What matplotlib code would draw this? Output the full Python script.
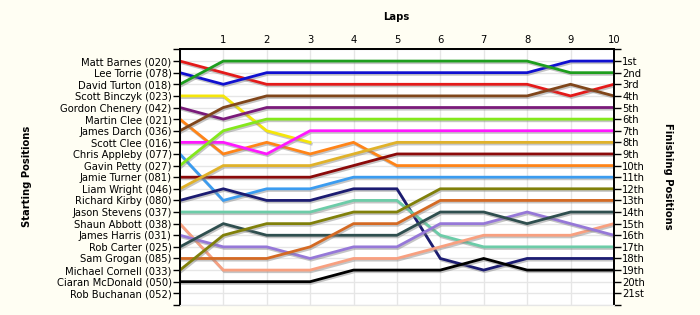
import numpy as np
import matplotlib
matplotlib.use("Agg")
from matplotlib import pyplot as plt
import matplotlib.patheffects as pe

laps = list(range(11))

drivers = [
    "Matt Barnes (020)", "Lee Torrie (078)", "David Turton (018)", "Scott Binczyk (023)",
    "Gordon Chenery (042)", "Martin Clee (021)", "James Darch (036)", "Scott Clee (016)",
    "Chris Appleby (077)", "Gavin Petty (027)", "Jamie Turner (081)", "Liam Wright (046)",
    "Richard Kirby (080)", "Jason Stevens (037)", "Shaun Abbott (038)", "James Harris (031)",
    "Rob Carter (025)", "Sam Grogan (085)", "Michael Cornell (033)", "Ciaran McDonald (050)",
    "Rob Buchanan (052)",
]

finish_labels = ["1st", "2nd", "3rd"] + [f"{i}th" for i in range(4, 21)] + ["21st"]

# position per lap (lap 0 = grid), shorter list = retired, empty = did not start
positions = {
    "Matt Barnes (020)":     [1, 2, 3, 3, 3, 3, 3, 3, 3, 4, 3],
    "Lee Torrie (078)":      [2, 3, 2, 2, 2, 2, 2, 2, 2, 1, 1],
    "David Turton (018)":    [3, 1, 1, 1, 1, 1, 1, 1, 1, 2, 2],
    "Scott Binczyk (023)":   [4, 4, 7, 8],
    "Gordon Chenery (042)":  [5, 6, 5, 5, 5, 5, 5, 5, 5, 5, 5],
    "Martin Clee (021)":     [6, 9, 8, 9, 8, 10, 10, 10, 10, 10, 10],
    "James Darch (036)":     [7, 5, 4, 4, 4, 4, 4, 4, 4, 3, 4],
    "Scott Clee (016)":      [8, 8, 9, 7, 7, 7, 7, 7, 7, 7, 7],
    "Chris Appleby (077)":   [9, 13, 12, 12, 11, 11, 11, 11, 11, 11, 11],
    "Gavin Petty (027)":     [10, 7, 6, 6, 6, 6, 6, 6, 6, 6, 6],
    "Jamie Turner (081)":    [11, 11, 11, 11, 10, 9, 9, 9, 9, 9, 9],
    "Liam Wright (046)":     [12, 10, 10, 10, 9, 8, 8, 8, 8, 8, 8],
    "Richard Kirby (080)":   [13, 12, 13, 13, 12, 12, 18, 19, 18, 18, 18],
    "Jason Stevens (037)":   [14, 14, 14, 14, 13, 13, 16, 17, 17, 17, 17],
    "Shaun Abbott (038)":    [15, 19, 19, 19, 18, 18, 17, 16, 16, 16, 15],
    "James Harris (031)":    [16, 17, 17, 18, 17, 17, 15, 15, 14, 15, 16],
    "Rob Carter (025)":      [17, 15, 16, 16, 16, 16, 14, 14, 15, 14, 14],
    "Sam Grogan (085)":      [18, 18, 18, 17, 15, 15, 13, 13, 13, 13, 13],
    "Michael Cornell (033)": [19, 16, 15, 15, 14, 14, 12, 12, 12, 12, 12],
    "Ciaran McDonald (050)": [20, 20, 20, 20, 19, 19, 19, 18, 19, 19, 19],
    "Rob Buchanan (052)":    [],
}

colors = {
    "Matt Barnes (020)": "#e41a1a",
    "Lee Torrie (078)": "#1010d0",
    "David Turton (018)": "#1e9e1e",
    "Scott Binczyk (023)": "#f5e60a",
    "Gordon Chenery (042)": "#7a1a7a",
    "Martin Clee (021)": "#ff8418",
    "James Darch (036)": "#80461b",
    "Scott Clee (016)": "#ff18ff",
    "Chris Appleby (077)": "#3b9cf0",
    "Gavin Petty (027)": "#84e81c",
    "Jamie Turner (081)": "#8b0a0a",
    "Liam Wright (046)": "#e0b22a",
    "Richard Kirby (080)": "#1c1c72",
    "Jason Stevens (037)": "#6ccca8",
    "Shaun Abbott (038)": "#f8a080",
    "James Harris (031)": "#9678d8",
    "Rob Carter (025)": "#2f4f4f",
    "Sam Grogan (085)": "#d46a24",
    "Michael Cornell (033)": "#80800a",
    "Ciaran McDonald (050)": "#000000",
    "Rob Buchanan (052)": "#000000",
}

bg = "#fffef3"
fs = 7.2
fig = plt.figure(figsize=(7, 3.15), dpi=100, facecolor=bg)
ax = fig.add_axes([0.257, 0.032, 0.62, 0.811])
ax.set_facecolor("white")

shadow = [pe.SimpleLineShadow(offset=(0.8, -1.2), shadow_color="#808080", alpha=0.45),
          pe.Normal()]
for name in drivers:
    pos = positions[name]
    if not pos:
        continue
    ax.plot(laps[:len(pos)], pos, color=colors[name], lw=2.0,
            solid_joinstyle="miter", path_effects=shadow, zorder=3)

ax.set_xlim(0, 10)
ax.set_ylim(22, 0)

ax.xaxis.tick_top()
ax.set_xticks(laps)
ax.set_xticklabels([""] + [str(i) for i in laps[1:]], fontsize=fs)
ax.tick_params(axis="x", length=0, pad=3)

ax.set_yticks(range(0, 23))
ax.set_yticklabels([""] + drivers + [""], fontsize=fs)
ax.tick_params(axis="y", length=5, width=1, direction="out", pad=1)

ax2 = ax.twinx()
ax2.set_ylim(22, 0)
ax2.set_yticks(range(0, 23))
ax2.set_yticklabels([""] + finish_labels + [""], fontsize=fs)
ax2.tick_params(axis="y", length=5, width=1, direction="out", pad=1)

ax.grid(True, color="#e6e6e6", lw=1)
ax.set_axisbelow(True)
for a in (ax, ax2):
    for s in ("left", "right", "top"):
        a.spines[s].set_linewidth(1.3)
        a.spines[s].set_color("black")
    a.spines["bottom"].set_color("#e6e6e6")

fig.text(0.566, 0.945, "Laps", ha="center", va="center", fontsize=fs, fontweight="bold")
fig.text(0.039, 0.44, "Starting Positions", ha="center", va="center", rotation=90,
         fontsize=fs, fontweight="bold")
fig.text(0.954, 0.44, "Finishing Positions", ha="center", va="center", rotation=-90,
         fontsize=fs, fontweight="bold")

fig.savefig("out.png", dpi=100, facecolor=bg)
